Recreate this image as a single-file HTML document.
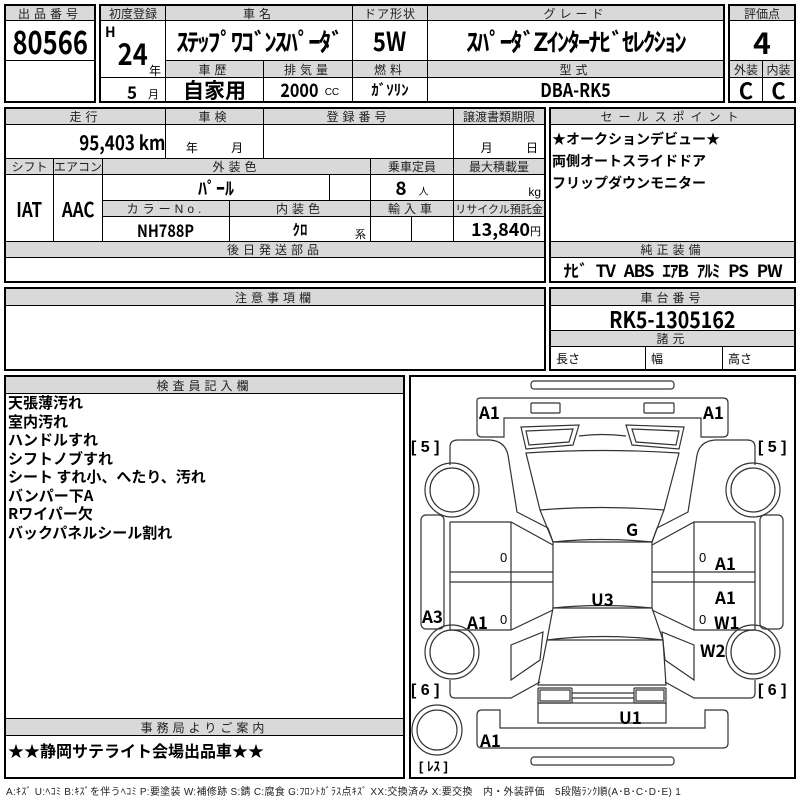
<!DOCTYPE html>
<html><head><meta charset="utf-8">
<style>
*{box-sizing:border-box;margin:0;padding:0}
body{width:800px;height:800px;background:#fff;position:relative;overflow:hidden;font-family:"Liberation Sans","Noto Sans CJK JP",sans-serif;color:#000}
.c{position:absolute;border:1px solid #000;display:flex;align-items:center;justify-content:center;white-space:nowrap;overflow:hidden}
.h{background:#d9d9d9;font-size:12px;letter-spacing:4px;color:#222}
.v{font-weight:bold;font-family:"Noto Sans CJK JP","Liberation Sans",sans-serif}
.n{display:inline-block;transform:scaleX(.85)}
.t{position:absolute;white-space:nowrap}
.ob{position:absolute;border:2px solid #000}
</style></head><body>
<div class="ob" style="left:4px;top:4px;width:92px;height:99px"></div>
<div class="c h" style="left:5px;top:5px;width:90px;height:16px">出品番号</div>
<div class="c v" style="left:5px;top:20px;width:90px;height:41px;font-size:32px"><span class="n" style="transform:scaleX(.8)">80566</span></div>
<div class="c" style="left:5px;top:60px;width:90px;height:42px"></div>

<div class="ob" style="left:99px;top:4px;width:626px;height:99px"></div>
<div class="c h" style="left:100px;top:5px;width:66px;height:16px;letter-spacing:0">初度登録</div>
<div class="c h" style="left:165px;top:5px;width:188px;height:16px">車名</div>
<div class="c h" style="left:352px;top:5px;width:76px;height:16px;letter-spacing:1px">ドア形状</div>
<div class="c h" style="left:427px;top:5px;width:297px;height:16px">グレード</div>
<div class="c" style="left:100px;top:20px;width:66px;height:58px"></div>
<div class="t v" style="left:105px;top:22px;font-size:14px">H</div>
<div class="t v" style="left:115px;top:30px;font-size:30px;transform:scaleX(.85)">24</div>
<div class="t" style="left:149px;top:62px;font-size:12px">年</div>
<div class="c v" style="left:165px;top:20px;width:188px;height:41px;font-size:25px;letter-spacing:-2px">ｽﾃｯﾌﾟﾜｺﾞﾝｽﾊﾟｰﾀﾞ</div>
<div class="c v" style="left:352px;top:20px;width:76px;height:41px;font-size:26px"><span class="n">5W</span></div>
<div class="c v" style="left:427px;top:20px;width:297px;height:41px;font-size:25px;letter-spacing:-2px">ｽﾊﾟｰﾀﾞZｲﾝﾀｰﾅﾋﾞｾﾚｸｼｮﾝ</div>
<div class="c h" style="left:165px;top:60px;width:99px;height:18px">車歴</div>
<div class="c h" style="left:263px;top:60px;width:90px;height:18px">排気量</div>
<div class="c h" style="left:352px;top:60px;width:76px;height:18px">燃料</div>
<div class="c h" style="left:427px;top:60px;width:297px;height:18px">型式</div>
<div class="c" style="left:100px;top:77px;width:66px;height:25px"></div>
<div class="t v" style="left:127px;top:79px;font-size:17px">5</div>
<div class="t" style="left:148px;top:86px;font-size:11px">月</div>
<div class="c v" style="left:165px;top:77px;width:99px;height:25px;font-size:21px">自家用</div>
<div class="c" style="left:263px;top:77px;width:90px;height:25px"><span class="v n" style="font-size:19px">2000</span><span style="font-size:10px;margin-left:3px;margin-top:6px">CC</span></div>
<div class="c v" style="left:352px;top:77px;width:76px;height:25px;font-size:15px">ｶﾞｿﾘﾝ</div>
<div class="c v" style="left:427px;top:77px;width:297px;height:25px;font-size:19px"><span class="n">DBA-RK5</span></div>

<div class="ob" style="left:728px;top:4px;width:68px;height:99px"></div>
<div class="c h" style="left:729px;top:5px;width:66px;height:16px;letter-spacing:0">評価点</div>
<div class="c v" style="left:729px;top:20px;width:66px;height:41px;font-size:30px">4</div>
<div class="c h" style="left:729px;top:60px;width:34px;height:18px;letter-spacing:0">外装</div>
<div class="c h" style="left:762px;top:60px;width:33px;height:18px;letter-spacing:0">内装</div>
<div class="c v" style="left:729px;top:77px;width:34px;height:25px;font-size:22px">C</div>
<div class="c v" style="left:762px;top:77px;width:33px;height:25px;font-size:22px">C</div>

<div class="ob" style="left:4px;top:107px;width:542px;height:176px"></div>
<div class="c h" style="left:5px;top:108px;width:161px;height:17px">走行</div>
<div class="c h" style="left:165px;top:108px;width:99px;height:17px">車検</div>
<div class="c h" style="left:263px;top:108px;width:191px;height:17px">登録番号</div>
<div class="c h" style="left:453px;top:108px;width:92px;height:17px;letter-spacing:0">譲渡書類期限</div>
<div class="c v" style="left:5px;top:124px;width:161px;height:35px;font-size:20px;justify-content:flex-end;padding-right:0"><span class="n" style="transform-origin:right">95,403 km</span></div>
<div class="c" style="left:165px;top:124px;width:99px;height:35px;font-size:12px;align-items:flex-end;padding-bottom:2px;word-spacing:30px">年 月</div>
<div class="c" style="left:263px;top:124px;width:191px;height:35px"></div>
<div class="c" style="left:453px;top:124px;width:92px;height:35px;font-size:12px;align-items:flex-end;justify-content:flex-end;padding:0 6px 2px 0;word-spacing:30px">月 日</div>
<div class="c h" style="left:5px;top:158px;width:49px;height:17px;letter-spacing:0">シフト</div>
<div class="c h" style="left:53px;top:158px;width:50px;height:17px;letter-spacing:0">エアコン</div>
<div class="c h" style="left:102px;top:158px;width:269px;height:17px">外装色</div>
<div class="c h" style="left:370px;top:158px;width:84px;height:17px;letter-spacing:0">乗車定員</div>
<div class="c h" style="left:453px;top:158px;width:92px;height:17px;letter-spacing:0">最大積載量</div>
<div class="c v" style="left:5px;top:174px;width:49px;height:68px;font-size:20px"><span class="n">IAT</span></div>
<div class="c v" style="left:53px;top:174px;width:50px;height:68px;font-size:20px"><span class="n">AAC</span></div>
<div class="c v" style="left:102px;top:174px;width:228px;height:27px;font-size:18px">ﾊﾟｰﾙ</div>
<div class="c" style="left:329px;top:174px;width:42px;height:27px"></div>
<div class="c" style="left:370px;top:174px;width:84px;height:27px"><span class="v" style="font-size:19px">8</span><span style="font-size:10px;margin-left:12px;margin-top:6px">人</span></div>
<div class="c" style="left:453px;top:174px;width:92px;height:27px;font-size:12px;justify-content:flex-end;align-items:flex-end;padding:0 3px 1px 0">kg</div>
<div class="c h" style="left:102px;top:200px;width:128px;height:17px">カラーNo.</div>
<div class="c h" style="left:229px;top:200px;width:142px;height:17px">内装色</div>
<div class="c h" style="left:370px;top:200px;width:84px;height:17px">輸入車</div>
<div class="c h" style="left:453px;top:200px;width:92px;height:17px;letter-spacing:0;font-size:11px">リサイクル預託金</div>
<div class="c v" style="left:102px;top:216px;width:128px;height:26px;font-size:17px"><span class="n">NH788P</span></div>
<div class="c v" style="left:229px;top:216px;width:142px;height:26px;font-size:15px">ｸﾛ</div>
<div class="t" style="left:355px;top:226px;font-size:11px">系</div>
<div class="c" style="left:370px;top:216px;width:42px;height:26px"></div>
<div class="c" style="left:411px;top:216px;width:43px;height:26px"></div>
<div class="c" style="left:453px;top:216px;width:92px;height:26px;justify-content:flex-end;padding-right:3px"><span class="v" style="font-size:18px">13,840</span><span style="font-size:11px;margin-top:4px">円</span></div>
<div class="c h" style="left:5px;top:241px;width:540px;height:17px">後日発送部品</div>
<div class="c" style="left:5px;top:257px;width:540px;height:25px"></div>

<div class="ob" style="left:549px;top:107px;width:247px;height:176px"></div>
<div class="c h" style="left:550px;top:108px;width:245px;height:17px;letter-spacing:6px">セールスポイント</div>
<div class="c" style="left:550px;top:124px;width:245px;height:118px"></div>
<div class="t v" style="left:552px;top:128px;font-size:14px;line-height:22px">★オークションデビュー★<br>両側オートスライドドア<br>フリップダウンモニター</div>
<div class="c h" style="left:550px;top:241px;width:245px;height:17px">純正装備</div>
<div class="c v" style="left:550px;top:257px;width:245px;height:25px;font-size:17px;word-spacing:6px;letter-spacing:-1px">ﾅﾋﾞ TV ABS ｴｱB ｱﾙﾐ PS PW</div>

<div class="ob" style="left:4px;top:287px;width:542px;height:84px"></div>
<div class="c h" style="left:5px;top:288px;width:540px;height:18px">注意事項欄</div>
<div class="ob" style="left:549px;top:287px;width:247px;height:84px"></div>
<div class="c h" style="left:550px;top:288px;width:245px;height:18px">車台番号</div>
<div class="c v" style="left:550px;top:305px;width:245px;height:26px;font-size:23px"><span class="n">RK5-1305162</span></div>
<div class="c h" style="left:550px;top:330px;width:245px;height:17px">諸元</div>
<div class="c" style="left:550px;top:346px;width:96px;height:24px;font-size:12px;justify-content:flex-start;padding-left:5px">長さ</div>
<div class="c" style="left:645px;top:346px;width:78px;height:24px;font-size:12px;justify-content:flex-start;padding-left:5px">幅</div>
<div class="c" style="left:722px;top:346px;width:73px;height:24px;font-size:12px;justify-content:flex-start;padding-left:5px">高さ</div>

<div class="ob" style="left:4px;top:375px;width:401px;height:404px"></div>
<div class="c h" style="left:5px;top:376px;width:399px;height:18px">検査員記入欄</div>
<div class="t v" style="left:8px;top:394px;font-size:15px;line-height:18.5px">天張薄汚れ<br>室内汚れ<br>ハンドルすれ<br>シフトノブすれ<br>シート すれ小、へたり、汚れ<br>バンパー下A<br>Rワイパー欠<br>バックパネルシール割れ</div>
<div class="c h" style="left:5px;top:718px;width:399px;height:18px">事務局よりご案内</div>
<div class="t v" style="left:8px;top:738px;font-size:16px">★★静岡サテライト会場出品車★★</div>

<div class="ob" style="left:409px;top:375px;width:387px;height:404px"></div>
<svg style="position:absolute;left:0;top:0" width="800" height="800" fill="none" stroke="#333" stroke-width="1.2">
<rect x="531" y="381" width="143" height="8" rx="3"/>
<path d="M477,400 Q477,398 482,398 L723,398 Q728,398 728,403 L728,432 Q728,437 723,437 L701,437 L701,418 L504,418 L504,437 L482,437 Q477,437 477,432 Z"/>
<rect x="531" y="403" width="29" height="10" rx="1"/>
<rect x="644" y="403" width="30" height="10" rx="1"/>
<path d="M521,427 L579,425 L573,445 L526,449 Z"/><path d="M526,431 L573,429 L569,442 L529,445 Z"/>
<path d="M684,427 L626,425 L632,445 L679,449 Z"/><path d="M679,431 L632,429 L636,442 L676,445 Z"/>
<path d="M579,436 Q602,433 626,436"/>
<path d="M526,453 Q602,448 679,453 L664,510 Q602,505 540,510 Z"/>
<path d="M540,510 L553,542 Q602,537 652,542 L664,510"/>
<path d="M553,542 L652,542 L652,608 L553,608 Z"/>
<path d="M553,608 Q602,603 652,608 L663,640 Q602,633 547,640 Z"/>
<path d="M547,640 L663,640 L666,685 L538,685 Z"/>
<rect x="538" y="688" width="34" height="15" rx="1"/><rect x="540" y="690" width="30" height="11"/>
<rect x="634" y="688" width="32" height="15" rx="1"/><rect x="636" y="690" width="28" height="11"/>
<path d="M572,693 L634,693 M572,698 L634,698"/>
<rect x="538" y="703" width="128" height="20"/>
<path d="M482,710 L500,710 L500,728 L705,728 L705,710 L723,710 Q728,710 728,715 L728,743 Q728,748 723,748 L482,748 Q477,748 477,743 L477,715 Q477,710 482,710 Z"/>
<rect x="531" y="757" width="143" height="8" rx="3"/>
<circle cx="452" cy="490" r="27"/><circle cx="452" cy="490" r="22"/>
<circle cx="753" cy="490" r="27"/><circle cx="753" cy="490" r="22"/>
<circle cx="452" cy="652" r="27"/><circle cx="452" cy="652" r="22"/>
<circle cx="753" cy="652" r="27"/><circle cx="753" cy="652" r="22"/>
<circle cx="437" cy="730" r="25"/><circle cx="437" cy="730" r="20"/>
<rect x="421" y="515" width="23" height="114" rx="5"/>
<rect x="760" y="515" width="23" height="114" rx="5"/>
<path d="M450,465 L450,447 Q450,440 458,440 L490,440 Q505,441 508,455 L517,512 L548,528 L553,542"/>
<path d="M755,465 L755,447 Q755,440 747,440 L715,440 Q700,441 697,455 L688,512 L657,528 L652,542"/>
<path d="M450,522 L511,522 L553,545 M450,522 L450,630 M450,572 L553,572 M450,582 L553,582 M511,522 L511,630 M450,630 L511,630 L553,610"/>
<path d="M755,522 L694,522 L652,545 M755,522 L755,630 M755,572 L652,572 M755,582 L652,582 M694,522 L694,630 M755,630 L694,630 L652,610"/>
<path d="M511,645 L543,632 L540,660 L511,680 Z"/>
<path d="M694,645 L662,632 L665,660 L694,680 Z"/>
<path d="M450,680 L450,693 Q450,698 455,698 L511,698 L540,682"/>
<path d="M755,680 L755,693 Q755,698 750,698 L694,698 L665,682"/>
</svg>
<div class="t v" style="font-size:17px;left:479px;top:399px">A1</div>
<div class="t v" style="font-size:17px;left:703px;top:399px">A1</div>
<div class="t" style="font-size:16px;left:411px;top:439px"><b>[ 5 ]</b></div>
<div class="t" style="font-size:16px;left:758px;top:439px"><b>[ 5 ]</b></div>
<div class="t v" style="font-size:17px;left:626px;top:516px">G</div>
<div class="t" style="font-size:13px;left:500px;top:550px">0</div>
<div class="t" style="font-size:13px;left:699px;top:550px">0</div>
<div class="t v" style="font-size:17px;left:715px;top:550px">A1</div>
<div class="t v" style="font-size:17px;left:715px;top:584px">A1</div>
<div class="t v" style="font-size:17px;left:591px;top:586px">U3</div>
<div class="t v" style="font-size:17px;left:422px;top:603px">A3</div>
<div class="t v" style="font-size:17px;left:467px;top:609px">A1</div>
<div class="t" style="font-size:13px;left:500px;top:612px">0</div>
<div class="t" style="font-size:13px;left:699px;top:612px">0</div>
<div class="t v" style="font-size:17px;left:714px;top:609px">W1</div>
<div class="t v" style="font-size:17px;left:700px;top:637px">W2</div>
<div class="t" style="font-size:16px;left:411px;top:682px"><b>[ 6 ]</b></div>
<div class="t" style="font-size:16px;left:758px;top:682px"><b>[ 6 ]</b></div>
<div class="t v" style="font-size:17px;left:619px;top:704px">U1</div>
<div class="t v" style="font-size:17px;left:480px;top:727px">A1</div>
<div class="t" style="font-size:13px;left:419px;top:756px"><b>[ ﾚｽ ]</b></div>
<div class="t" style="font-size:10px;left:6px;top:783px;color:#222;letter-spacing:0.3px">A:ｷｽﾞ U:ﾍｺﾐ B:ｷｽﾞを伴うﾍｺﾐ P:要塗装 W:補修跡 S:錆 C:腐食 G:ﾌﾛﾝﾄｶﾞﾗｽ点ｷｽﾞ XX:交換済み X:要交換　内・外装評価　5段階ﾗﾝｸ順(A･B･C･D･E) 1</div>
</body></html>
